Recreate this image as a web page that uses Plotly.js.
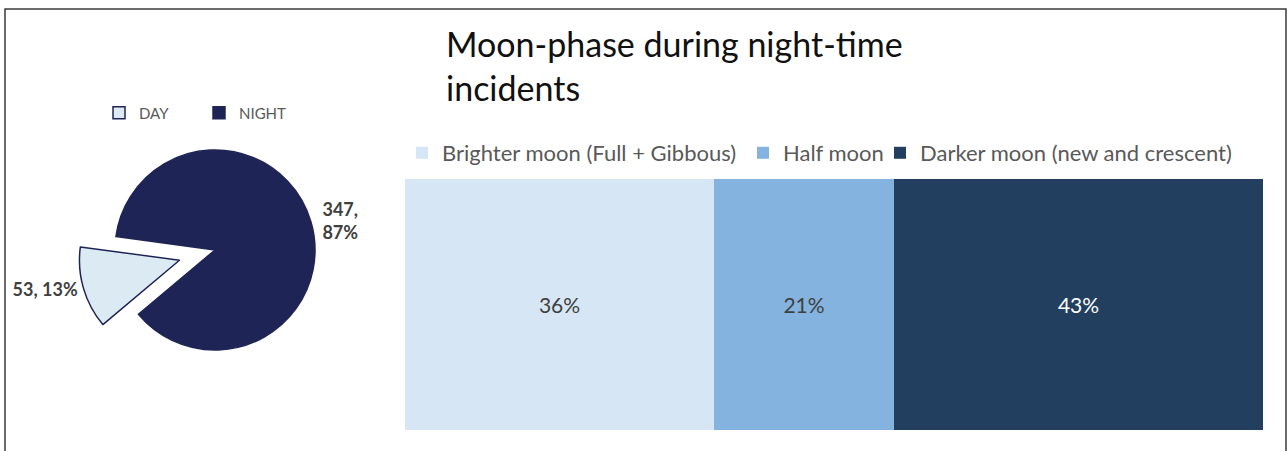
<!DOCTYPE html>
<html><head><meta charset="utf-8">
<script src="https://cdn.plot.ly/plotly-3.0.1.min.js"></script>
<style>html,body{margin:0;padding:0;background:#fff;} #chart{width:1287px;height:451px;}</style>
</head><body><div id="chart"></div>
<script>
// ---- data ----
const pieLabels = ['DAY', 'NIGHT'];
const pieValues = [53, 347];
const pieTemplates = ['%{value}, %{percent:.0%}', '%{value},<br>%{percent:.0%}'];
const phaseNames = ['Brighter moon (Full + Gibbous)', 'Half moon', 'Darker moon (new and crescent)'];
const phaseShares = [36, 21, 43];
const rowCategory = ['Night-time incidents'];
const chartTitle = 'Moon-phase during night-time<br>incidents';

// ---- styles ----
const FONT = 'Lato, "Open Sans", sans-serif';
const pieColors = ['#DBEAF3', '#1F2456'];
const phaseColors = ['#D6E6F4', '#84B3DF', '#223F5F'];
const phaseTextColors = ['#404040', '#404040', '#FFFFFF'];
const phaseLegendWidths = [296, 92, 330];
const W = 1287, H = 451;

const traces = [];
traces.push({
  type: 'pie',
  labels: pieLabels,
  values: pieValues,
  texttemplate: pieTemplates,
  textposition: 'outside',
  textfont: {family: FONT, size: 18, color: '#404040', weight: 'bold'},
  sort: false,
  direction: 'counterclockwise',
  rotation: -130,
  pull: [0.37, 0],
  marker: {colors: pieColors, line: {color: '#1F2456', width: 1.5}},
  domain: {x: [(215 - 137) / W, (215 + 137) / W], y: [(H - 250 - 137) / H, (H - 250 + 137) / H]},
  legend: 'legend2',
  legendwidth: 55,
  hoverinfo: 'label+value+percent'
});
phaseNames.forEach((name, i) => {
  traces.push({
    type: 'bar',
    orientation: 'h',
    name: name,
    x: [phaseShares[i]],
    y: rowCategory,
    text: [phaseShares[i] + '%'],
    textposition: 'inside',
    insidetextanchor: 'middle',
    constraintext: 'none',
    textfont: {family: FONT, size: 21, color: phaseTextColors[i]},
    marker: {color: phaseColors[i], line: {width: 0}},
    legend: 'legend',
    legendwidth: phaseLegendWidths[i],
    hovertemplate: name + ': %{x}%<extra></extra>'
  });
});

const layout = {
  width: W, height: H,
  margin: {l: 0, r: 0, t: 0, b: 0},
  paper_bgcolor: '#FFFFFF', plot_bgcolor: '#FFFFFF',
  font: {family: FONT, color: '#595959'},
  barmode: 'stack',
  bargap: 0,
  title: {
    text: chartTitle,
    font: {family: FONT, size: 34, color: '#111111', weight: 400},
    xref: 'container', yref: 'container',
    x: 446 / W, xanchor: 'left',
    y: 1 - 57 / H, yanchor: 'top'
  },
  xaxis: {domain: [405 / W, 1263 / W], range: [0, 100], visible: false, fixedrange: true},
  yaxis: {domain: [(H - 430) / H, (H - 179) / H], range: [-0.5, 0.5], visible: false, fixedrange: true},
  showlegend: true,
  legend: {
    orientation: 'h', traceorder: 'normal',
    x: 402 / W, xanchor: 'left', y: (H - 153) / H, yanchor: 'middle',
    font: {family: FONT, size: 22, color: '#595959'},
    bgcolor: 'rgba(0,0,0,0)'
  },
  legend2: {
    orientation: 'h', traceorder: 'normal',
    x: 99 / W, xanchor: 'left', y: (H - 113) / H, yanchor: 'middle',
    font: {family: FONT, size: 15, color: '#595959'},
    bgcolor: 'rgba(0,0,0,0)'
  },
  shapes: [{
    type: 'rect', xref: 'paper', yref: 'paper',
    x0: 5 / W, x1: 1286 / W, y0: -0.05, y1: (H - 9) / H,
    line: {color: '#3A3A3A', width: 1.5}, fillcolor: 'rgba(0,0,0,0)', layer: 'below'
  }]
};

Plotly.newPlot('chart', traces, layout, {displayModeBar: false});
</script>
</body></html>
